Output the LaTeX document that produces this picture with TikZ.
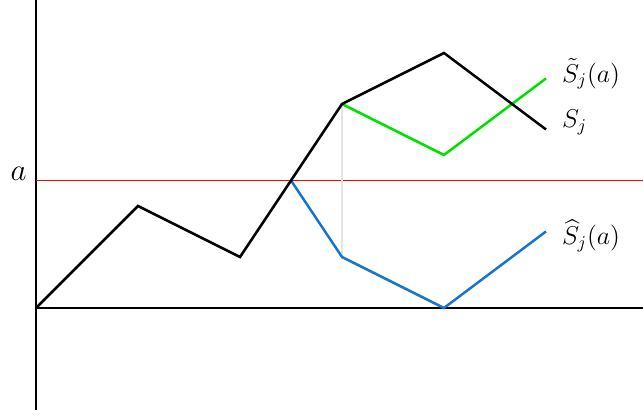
\documentclass[tikz,border=0pt]{standalone}
\usepackage{amsmath}
\definecolor{pathgreen}{RGB}{0,225,0}
\definecolor{pathblue}{RGB}{24,116,205}
\begin{document}
\begin{tikzpicture}[x=1cm,y=1cm,
  walk/.style={line width=1.4pt,line join=miter},
  axis/.style={line width=0.8pt},
  lbl/.style={font=\Large,inner sep=0pt,anchor=base west}]
\useasboundingbox (-0.706,-2.137) rectangle (11.902,6.039);
% axes
\coordinate (yb) at (0,-2);
\coordinate (yt) at (0,6.039);
\coordinate (xr) at (11.902,0);
\draw[axis] (yb) -- (yt);
% level a
\coordinate (al) at (0,2.5);
\coordinate (ar) at (11.902,2.5);
\draw[red,line width=0.8pt] (al) -- (ar);
\draw[axis] (0,0) coordinate (o) -- (xr);
% points
\coordinate (p0) at (0,0);
\coordinate (p1) at (2,2);
\coordinate (p2) at (4,1);
\coordinate (p3) at (5,2.5);
\coordinate (p4) at (6,4);
\coordinate (p5) at (8,5);
\coordinate (p6) at (10,3.5);
\coordinate (g5) at (8,3);
\coordinate (g6) at (10,4.5);
\coordinate (b4) at (6,1);
\coordinate (b5) at (8,0);
\coordinate (b6) at (10,1.5);
% grey reflection guide
\draw[gray!20,line width=0.6pt] (p4) -- (b4);
% walks
\draw[walk,pathgreen] (p4) -- (g5) -- (g6);
\draw[walk,pathblue] (p3) -- (b4) -- (b5) -- (b6);
\draw[walk,black] (p0) -- (p1) -- (p2) -- (p3) -- (p4) -- (p5) -- (p6);
% labels
\node[font=\fontsize{19}{22}\selectfont,inner sep=0pt,anchor=base] (la) at (-0.34,2.49) {$a$};
\node[lbl] (lt) at (10.31,4.43) {$\tilde S_j(a)$};
\node[lbl] (ls) at (10.31,3.53) {$S_j$};
\node[lbl] (lh) at (10.31,1.24) {$\widehat S_j(a)$};
\end{tikzpicture}
\end{document}
